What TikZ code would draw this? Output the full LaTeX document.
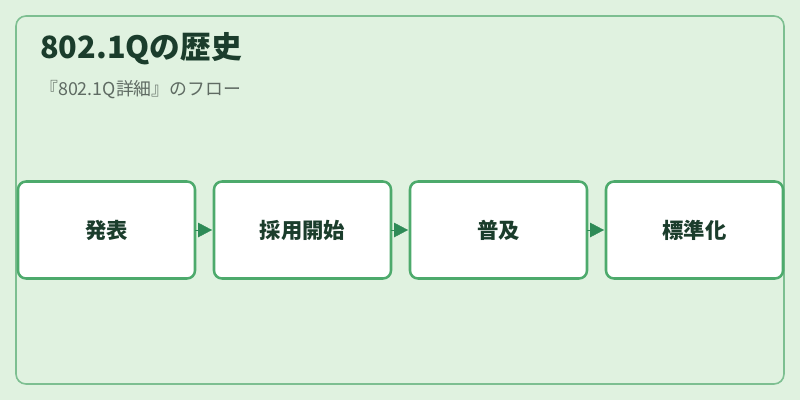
\documentclass[tikz,border=0pt]{standalone}
\usepackage{fontspec}
\setmainfont{Noto Sans CJK JP}
\usetikzlibrary{positioning,arrows.meta}
\definecolor{bgfill}{HTML}{E0F2E0}
\definecolor{framecol}{HTML}{7DBF91}
\definecolor{boxline}{HTML}{4DAA6C}
\definecolor{tipcol}{HTML}{2E8B57}
\definecolor{titlecol}{HTML}{1B3D2C}
\definecolor{subcol}{HTML}{5F6B63}

\begin{document}
\begin{tikzpicture}[x=0.75pt, y=-0.75pt,
  stage/.style={draw=boxline, line width=1.9pt, fill=white, rounded corners=6pt,
    minimum width=132.75pt, minimum height=72.75pt, outer sep=0pt,
    text=titlecol, font=\fontsize{16pt}{19pt}\selectfont\bfseries},
  flow/.style={-{Triangle[width=11pt, length=10.5pt]}, tipcol, line width=0.3pt, shorten >=1.5pt}]
\useasboundingbox (0,0) rectangle (800,400);
\fill[bgfill] (0,0) rectangle (800,400);
\draw[framecol, line width=1.2pt, rounded corners=7.5pt] (16,16) rectangle (784,384);
\node[anchor=base west, text=titlecol, font=\fontsize{23pt}{27pt}\selectfont\bfseries, inner sep=0pt] (title) at (40,58) {802.1Qの歴史};
\node[anchor=base west, text=subcol, font=\fontsize{13.4pt}{16pt}\selectfont, inner sep=0pt] (subtitle) at (40,95) {『802.1Q詳細』のフロー};
\node[stage] (s1) at (106.5,230) {発表};
\node[stage, right=14.25pt of s1] (s2) {採用開始};
\node[stage, right=14.25pt of s2] (s3) {普及};
\node[stage, right=14.25pt of s3] (s4) {標準化};
\draw[flow] (s1) -- (s2);
\draw[flow] (s2) -- (s3);
\draw[flow] (s3) -- (s4);
\end{tikzpicture}
\end{document}
